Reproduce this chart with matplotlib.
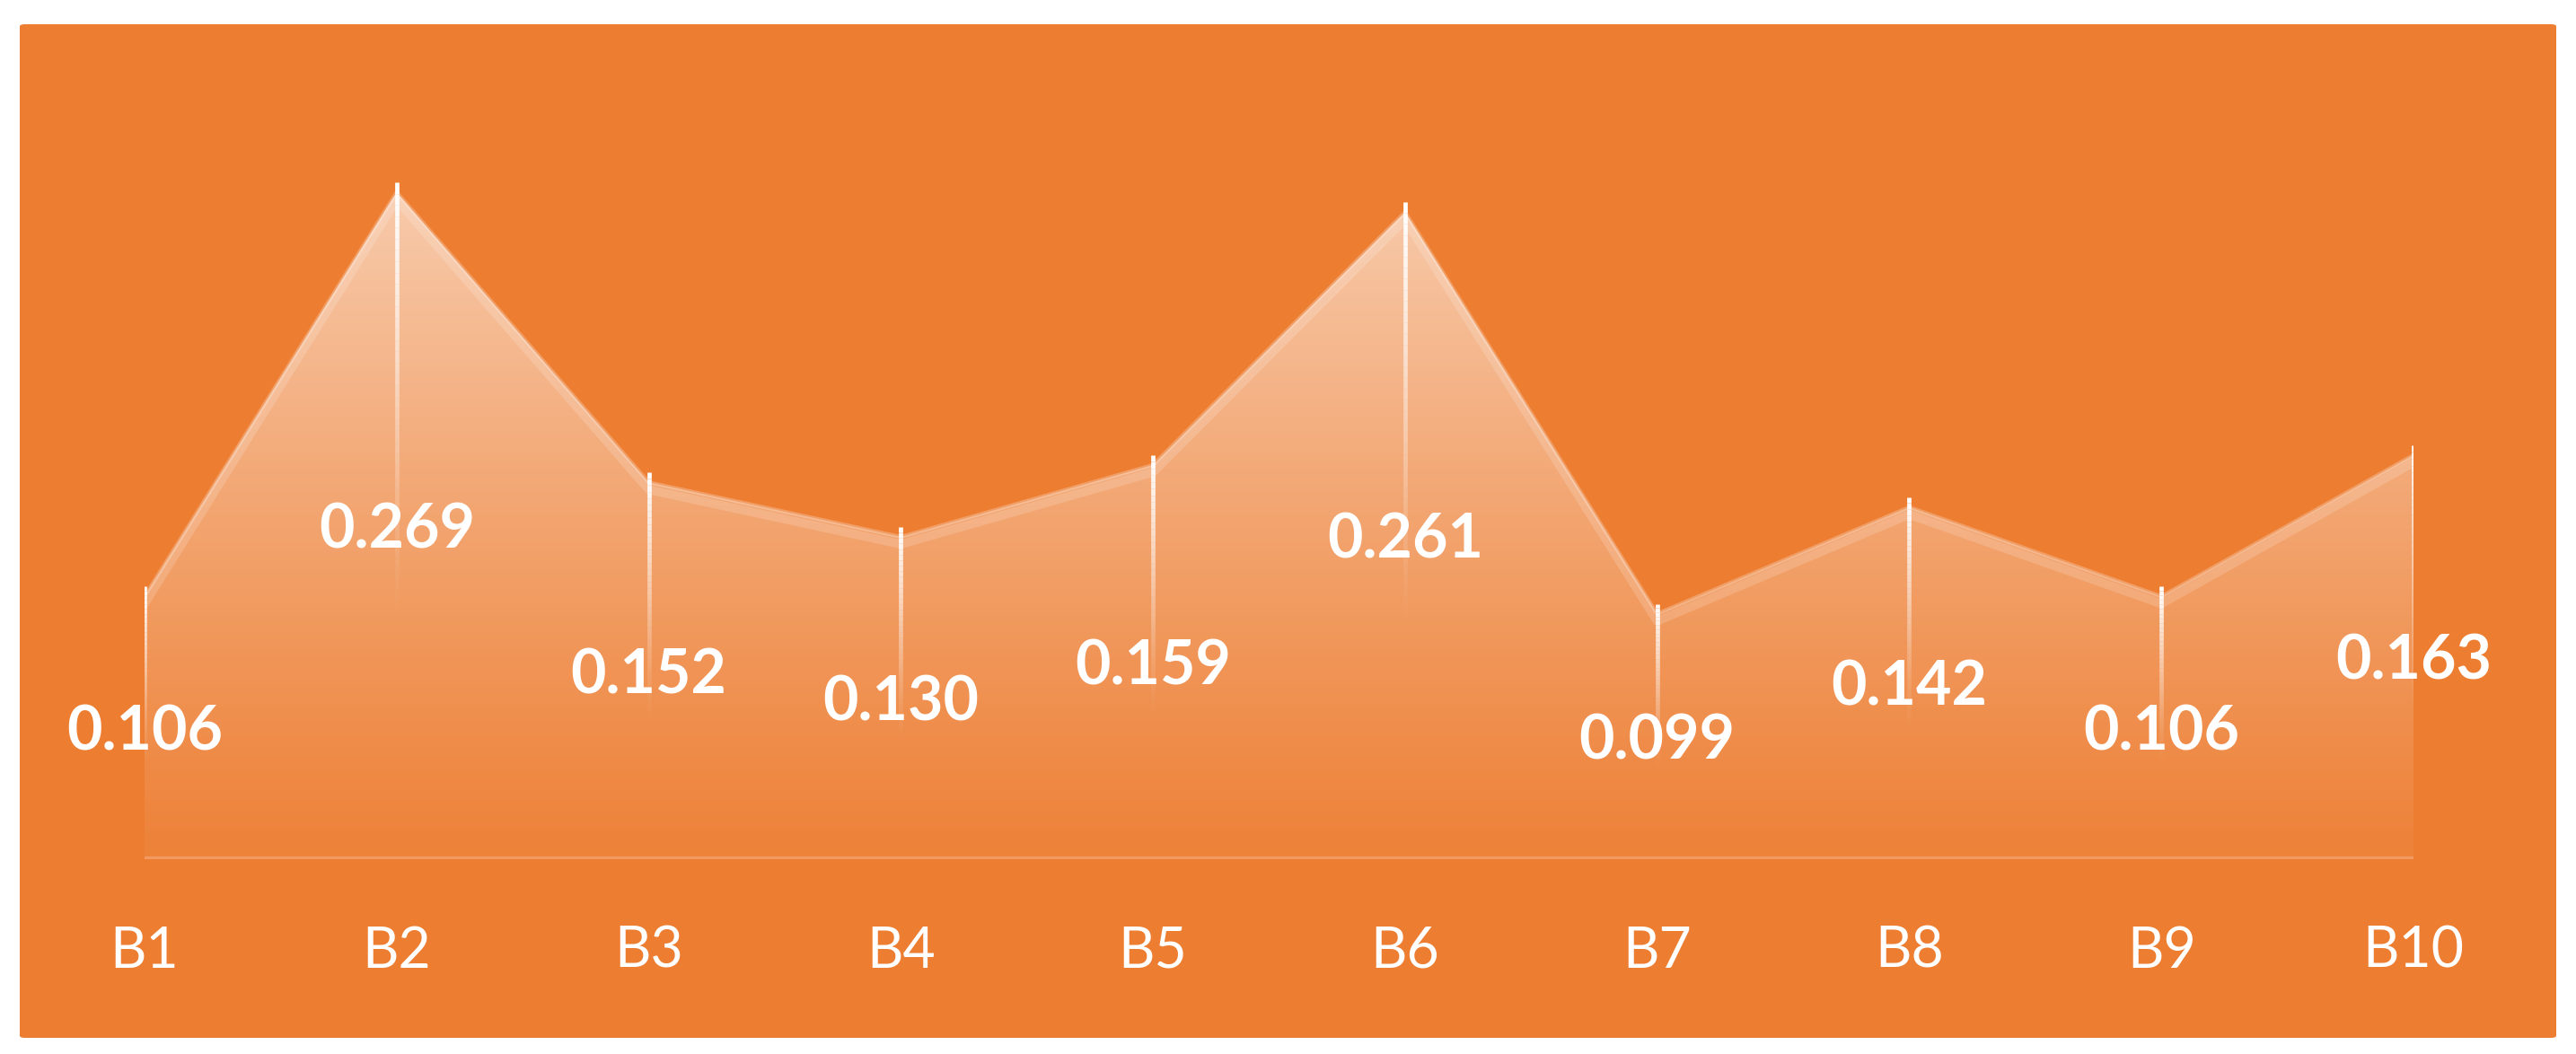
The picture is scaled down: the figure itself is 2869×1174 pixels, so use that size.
import numpy as np
import matplotlib
matplotlib.use("Agg")
import matplotlib.pyplot as plt
from matplotlib.patches import FancyBboxPatch, Polygon
from matplotlib.collections import LineCollection

categories = ["B1", "B2", "B3", "B4", "B5", "B6", "B7", "B8", "B9", "B10"]
values = [0.106, 0.269, 0.152, 0.130, 0.159, 0.261, 0.099, 0.142, 0.106, 0.163]
labels = ["0.106", "0.269", "0.152", "0.130", "0.159", "0.261", "0.099", "0.142", "0.106", "0.163"]

ORANGE = "#ED7D31"
W, H = 2869, 1174
fig = plt.figure(figsize=(W / 100, H / 100), dpi=100)
fig.patch.set_facecolor("white")

# orange chart area with slightly rounded corners
bg = FancyBboxPatch((22 / W, 18 / H), (2847 - 22) / W, 1129 / H,
                    boxstyle="round,pad=0,rounding_size=0.002",
                    transform=fig.transFigure, facecolor=ORANGE, edgecolor="none", zorder=-5)
fig.patches.append(bg)

ax = fig.add_axes([161 / W, 217 / H, (2688 - 161) / W, 828.6 / H])
ax.set_zorder(1)
ax.set_facecolor("none")
x = np.arange(len(values))
ax.set_xlim(0, len(values) - 1)
ax.set_ylim(0, 0.3)
ax.axis("off")

# gradient area fill
poly_xy = np.vstack([np.column_stack([x, values]), [[x[-1], 0], [x[0], 0]]])
poly = Polygon(poly_xy, closed=True, facecolor="none", edgecolor="none", transform=ax.transData)
ax.add_patch(poly)
ny = 400
yy = np.linspace(0, 0.3, ny)
alpha = np.clip(0.04 + 0.56 * (yy / 0.27) ** 1.1, 0, 0.66)
img = np.ones((ny, 2, 4))
img[:, :, 3] = alpha[:, None]
im = ax.imshow(img, extent=[0, len(values) - 1, 0, 0.3], origin="lower",
               aspect="auto", interpolation="bilinear", zorder=1)
im.set_clip_path(poly)

# top edge glow (soft inner band)
ax.plot(x, np.array(values) - 0.003, color="white", lw=7, alpha=0.16, zorder=2)
ax.plot(x, values, color="white", lw=3, alpha=0.25, zorder=2)

# baseline
ax.plot([x[0], x[-1]], [0, 0], color="#F29A62", lw=4.5, zorder=2, solid_capstyle="butt")

# fading drop lines
nseg = 60
for xi, v in zip(x, values):
    ys = np.linspace(v + 0.004, 0, nseg + 1)
    segs = [[(xi, ys[k]), (xi, ys[k + 1])] for k in range(nseg)]
    t = np.linspace(0, 1, nseg)
    a = np.clip(1.0 - t / 0.65, 0, 1) ** 1.3
    cols = np.zeros((nseg, 4))
    cols[:, :3] = 1
    cols[:, 3] = a
    lc = LineCollection(segs, colors=cols, linewidths=3.4, zorder=3, capstyle="butt")
    ax.add_collection(lc)

# data labels at mid-height
for xi, v, lab in zip(x, values, labels):
    ax.text(xi, v / 2 - 0.002, lab, ha="center", va="center", color="white",
            fontsize=49, fontweight="bold", family=["Lato", "DejaVu Sans"], zorder=4)

# category labels
for xi, c in zip(x, categories):
    ax.text(xi, -103 / 2762, c, ha="center", va="center", color="white",
            fontsize=45, family=["Lato", "DejaVu Sans"], zorder=4, clip_on=False)

fig.savefig("out.png", dpi=100, facecolor="white")
